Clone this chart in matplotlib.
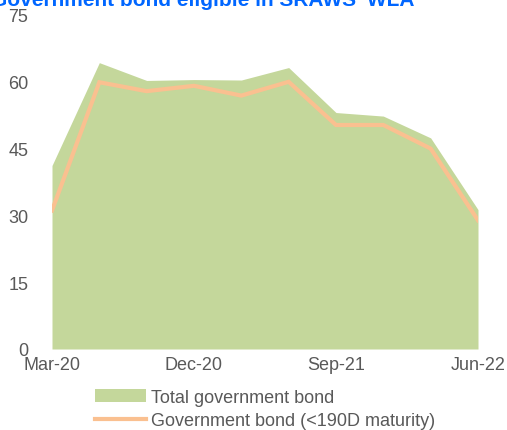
import matplotlib.pyplot as plt
from matplotlib.patches import Patch
from matplotlib.lines import Line2D

quarters = ["Mar-20", "Jun-20", "Sep-20", "Dec-20", "Mar-21", "Jun-21",
            "Sep-21", "Dec-21", "Mar-22", "Jun-22"]
total_bond = [41.2, 64.3, 60.3, 60.5, 60.4, 63.2, 53.1, 52.3, 47.4, 31.3]
short_bond = [31.1, 59.9, 57.9, 59.1, 56.9, 60.0, 50.3, 50.3, 45.0, 28.9]
yticks = [0, 15, 30, 45, 60, 75]

plt.rcParams['font.family'] = ['Liberation Sans', 'DejaVu Sans']
grey = "#595959"

fig = plt.figure(figsize=(5.07, 4.31), dpi=100)
ax = fig.add_axes([52 / 507, 1 - 350 / 431, (478 - 52) / 507, (350 - 16) / 431])

x = list(range(len(quarters)))
ax.fill_between(x, 0, total_bond, color="#C4D79B", linewidth=0)
ax.plot(x, short_bond, color="#FAC090", linewidth=3, solid_joinstyle="miter")

ax.set_xlim(0, len(quarters) - 1)
ax.set_ylim(0, 75)
ax.set_yticks(yticks)
ax.set_xticks([0, 3, 6, 9])
ax.set_xticklabels([quarters[i] for i in [0, 3, 6, 9]])
ax.tick_params(length=0, colors=grey, labelsize=13)
ax.tick_params(axis="y", pad=17)
ax.tick_params(axis="x", pad=5)
for s in ax.spines.values():
    s.set_visible(False)

fig.text(-0.018, 1.0, "Government bond eligible in SRAWS' WLA", color="#0066FF",
         fontsize=15, fontweight="bold", ha="left", va="center")

handles = [Patch(facecolor="#C4D79B", edgecolor="none"),
           Line2D([0], [0], color="#FAC090", linewidth=3)]
labels = ["Total government bond", "Government bond (<190D maturity)"]
fig.legend(handles, labels, loc="upper left", bbox_to_anchor=(86 / 507, 1 - 381 / 431),
           frameon=False, fontsize=13, labelcolor=grey, handlelength=2.8,
           handletextpad=0.3, labelspacing=0.35, borderpad=0)

fig.savefig("out.png", dpi=100)
